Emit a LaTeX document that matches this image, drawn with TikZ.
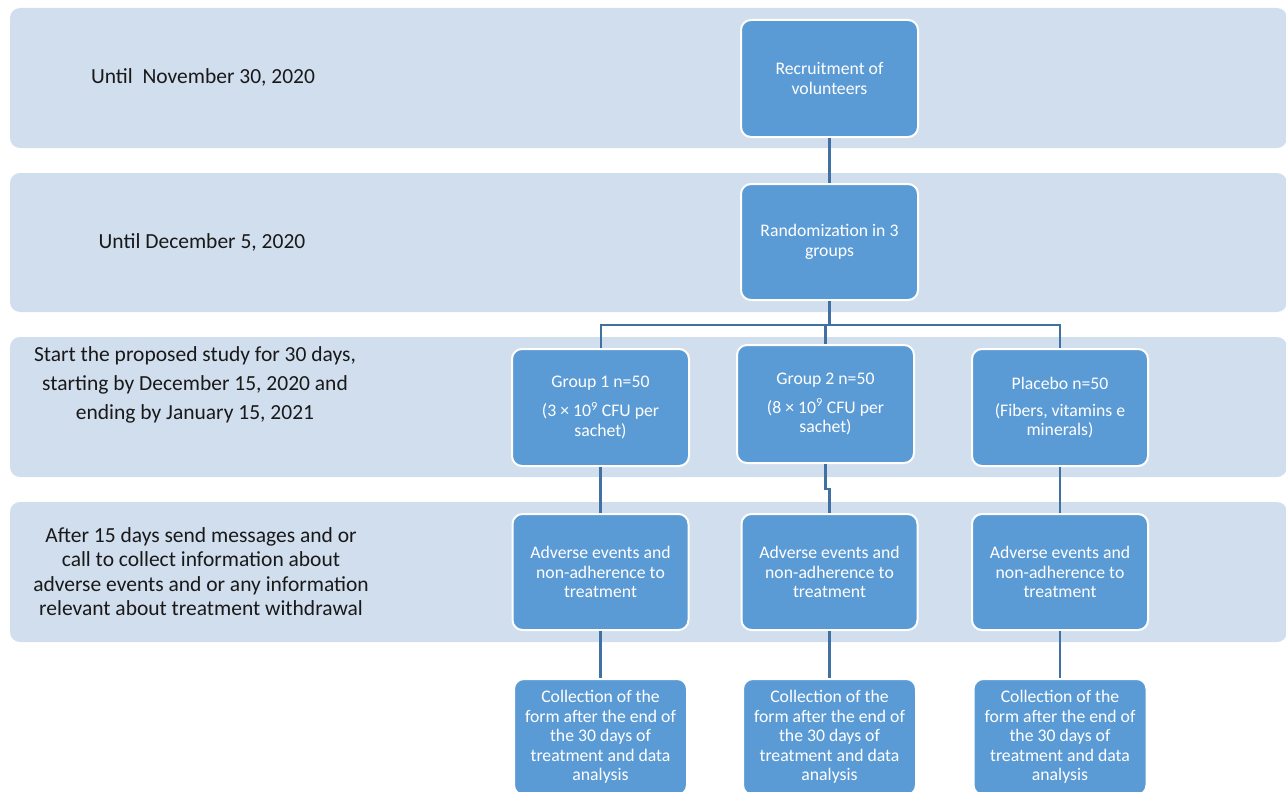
\documentclass[tikz,border=0pt]{standalone}
\usepackage{fontspec}
\setmainfont{Carlito}
\definecolor{bandc}{RGB}{209,222,238}
\definecolor{boxc}{RGB}{91,155,213}
\definecolor{linec}{RGB}{65,113,162}
\definecolor{txtc}{RGB}{25,25,25}
\begin{document}
\begin{tikzpicture}[x=1pt,y=-1pt,
  band/.style={fill=bandc, draw=none, rounded corners=10pt},
  bandlabel/.style={align=center, text=txtc, font=\fontsize{21.5}{29}\selectfont},
  stepbox/.style={fill=boxc, draw=white, line width=2pt, rounded corners=10pt,
    minimum width=177pt, minimum height=117pt, inner sep=0pt, align=center,
    text=white, font=\fontsize{17.7}{19.5}\selectfont},
  conn/.style={draw=linec, line width=2.5pt}]
\useasboundingbox (0,0) rectangle (1286,792);
% bands
\path[band] (10,8) rectangle (1287,148);
\path[band] (10,173) rectangle (1287,312);
\path[band] (10,337) rectangle (1287,477);
\path[band] (10,502) rectangle (1287,642);
% band labels
\node[bandlabel] (l1) at (203,77) {Until\ \ November 30, 2020};
\node[bandlabel] (l2) at (202,242) {Until December 5, 2020};
\node[bandlabel] (l3) at (195,385) {Start the proposed study for 30 days,\\starting by December 15, 2020 and\\ending by January 15, 2021};
\node[bandlabel, font=\fontsize{21.5}{24.5}\selectfont] (l4) at (201,571.5) {After 15 days send messages and or\\call to collect information about\\adverse events and or any information\\relevant about treatment withdrawal};
% boxes
\node[stepbox] (rec) at (829.5,78.5) {Recruitment of\\volunteers};
\node[stepbox, minimum height=116pt] (rand) at (829.5,242) {Randomization in 3\\groups};
\node[stepbox] (g1) at (600.5,407.5) {Group 1 n=50\\[9.5pt](3 × 10\textsuperscript{9} CFU per\\sachet)};
\node[stepbox, minimum height=118pt] (g2) at (825.5,404) {Group 2 n=50\\[9.5pt](8 × 10\textsuperscript{9} CFU per\\sachet)};
\node[stepbox, minimum width=176pt] (pl) at (1060,407.5) {Placebo n=50\\[7.5pt](Fibers, vitamins e\\minerals)};
\node[stepbox, minimum width=176pt, minimum height=116pt] (a1) at (600.5,572) {Adverse events and\\non-adherence to\\treatment};
\node[stepbox, minimum width=176pt, minimum height=116pt] (a2) at (829.5,572) {Adverse events and\\non-adherence to\\treatment};
\node[stepbox, minimum width=176pt, minimum height=116pt] (a3) at (1060,572) {Adverse events and\\non-adherence to\\treatment};
\node[stepbox, minimum width=173pt, minimum height=116pt] (c1) at (600.5,737) {Collection of the\\form after the end of\\the 30 days of\\treatment and data\\analysis};
\node[stepbox, minimum width=173pt, minimum height=116pt] (c2) at (829.5,737) {Collection of the\\form after the end of\\the 30 days of\\treatment and data\\analysis};
\node[stepbox, minimum width=173pt, minimum height=116pt] (c3) at (1060,737) {Collection of the\\form after the end of\\the 30 days of\\treatment and data\\analysis};
% connectors
\coordinate (bus) at (825.5,325);
\draw[conn] (rec.south) -- (rand.north);
\draw[conn] (rand.south) -- ++(0,24) -| (g2.north);
\draw[conn, line width=2pt] (g1.north) -- (g1.north |- bus) -- (pl.north |- bus) -- (pl.north);
\draw[conn] (g1.south) -- (a1.north);
\draw[conn] (g2.south) -- ++(0,25) -| (a2.north);
\draw[conn] (pl.south) -- (a3.north);
\draw[conn] (a1.south) -- (c1.north);
\draw[conn] (a2.south) -- (c2.north);
\draw[conn] (a3.south) -- (c3.north);
\end{tikzpicture}
\end{document}
